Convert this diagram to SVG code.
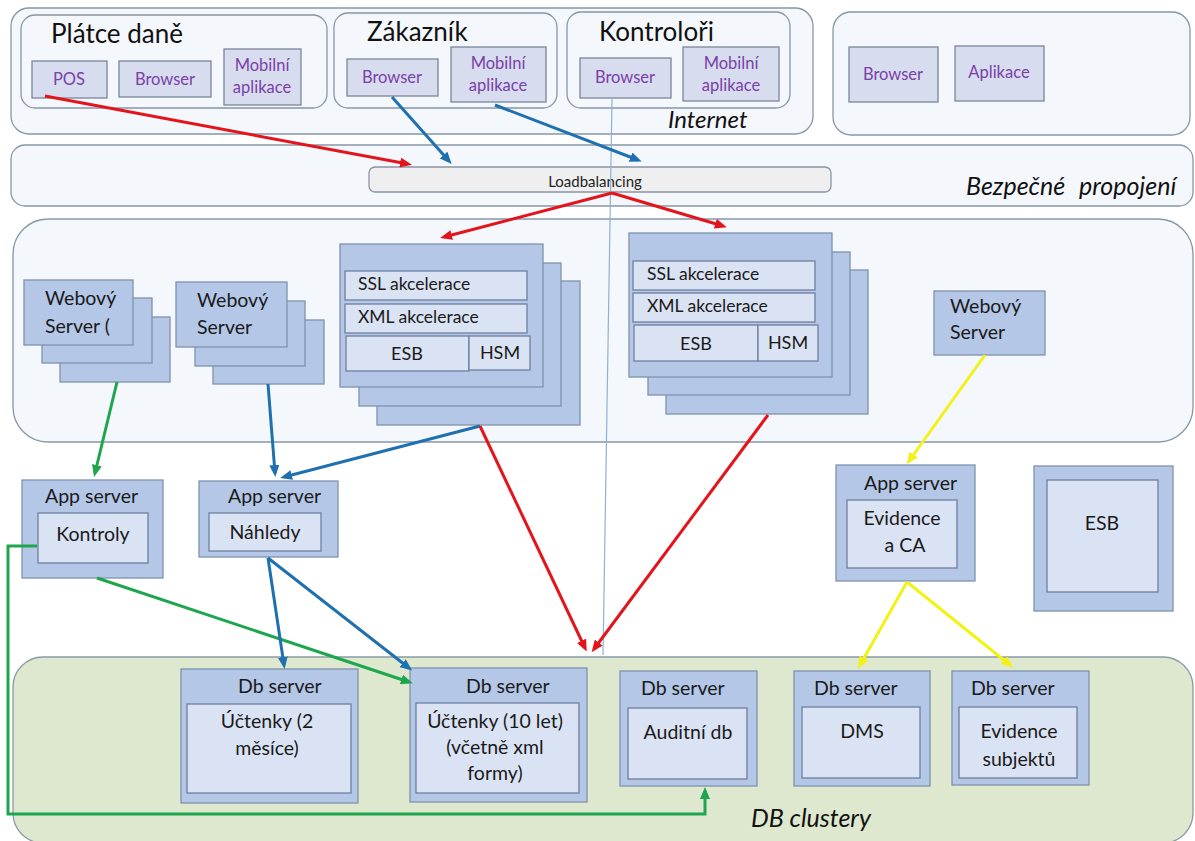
<svg xmlns="http://www.w3.org/2000/svg" width="1195" height="841" viewBox="0 0 1195 841">
  <style>
    text { font-family: Lato, "Liberation Sans", sans-serif; }
    .cont { fill: #f4f7fb; stroke: #8797a8; stroke-width: 1.3; }
    .db-cont { fill: #dde8ce; stroke: #8b9aa6; stroke-width: 1.3; }
    .client { fill: #d7ddef; stroke: #7c8698; stroke-width: 1.3; }
    .ctext { font-size: 16.5px; fill: #7a40a8; text-anchor: middle; }
    .srv { fill: #b4c7e7; stroke: #7f92ae; stroke-width: 1.3; }
    .inner { fill: #dae3f3; stroke: #6e7f9e; stroke-width: 1.3; }
    .lb { fill: #efefef; stroke: #8a96a3; stroke-width: 1.3; }
    .t { font-size: 19.5px; fill: #1a1a1a; }
    .tm { font-size: 19.5px; fill: #1a1a1a; text-anchor: middle; }
    .ts { font-size: 17.5px; fill: #1a1a1a; }
    .tsm { font-size: 18px; fill: #1a1a1a; text-anchor: middle; }
    .title { font-size: 26px; fill: #111; }
    .ital { font-size: 24px; font-style: italic; fill: #111; }
    .red { stroke: #e3141b; stroke-width: 3; fill: none; marker-end: url(#ah-red); }
    .blue { stroke: #1f70b0; stroke-width: 3; fill: none; marker-end: url(#ah-blue); }
    .green { stroke: #1ea64f; stroke-width: 3; fill: none; marker-end: url(#ah-green); }
    .yellow { stroke: #f2f214; stroke-width: 3; fill: none; marker-end: url(#ah-yellow); }
    .thin { stroke: #8db2d4; stroke-width: 1.2; fill: none; }
  </style>
  <defs>
    <marker id="ah-red" markerUnits="userSpaceOnUse" viewBox="0 0 12 10" markerWidth="12" markerHeight="10" refX="8" refY="5" orient="auto"><path d="M0,0 L12,5 L0,10 z" fill="#e3141b"/></marker>
    <marker id="ah-blue" markerUnits="userSpaceOnUse" viewBox="0 0 12 10" markerWidth="12" markerHeight="10" refX="8" refY="5" orient="auto"><path d="M0,0 L12,5 L0,10 z" fill="#1f70b0"/></marker>
    <marker id="ah-green" markerUnits="userSpaceOnUse" viewBox="0 0 12 10" markerWidth="12" markerHeight="10" refX="8" refY="5" orient="auto"><path d="M0,0 L12,5 L0,10 z" fill="#1ea64f"/></marker>
    <marker id="ah-yellow" markerUnits="userSpaceOnUse" viewBox="0 0 12 10" markerWidth="12" markerHeight="10" refX="8" refY="5" orient="auto"><path d="M0,0 L12,5 L0,10 z" fill="#f2f214"/></marker>
  </defs>

  <rect width="1195" height="841" fill="#ffffff"/>

  <!-- Zones -->
  <g id="zone-internet">
    <rect class="cont" x="11" y="8" width="802" height="126" rx="18"/>
    <text class="ital" x="668" y="128">Internet</text>
  </g>
  <g id="zone-external">
    <rect class="cont" x="833" y="12" width="357" height="123" rx="18"/>
  </g>
  <g id="zone-secure">
    <rect class="cont" x="11" y="145" width="1182" height="61" rx="14"/>
    <text class="ital" x="966" y="195" style="font-size:25px; word-spacing:8px">Bezpečné propojení</text>
  </g>
  <g id="zone-app">
    <rect class="cont" x="13" y="219" width="1180" height="223" rx="35"/>
  </g>
  <g id="zone-db">
    <rect class="db-cont" x="13" y="657" width="1180" height="186" rx="30"/>
    <text class="ital" x="751" y="827" style="font-size:25px">DB clustery</text>
  </g>

  <!-- Client groups -->
  <g id="platce-dane">
    <rect class="cont" x="21" y="15" width="306" height="93" rx="14"/>
    <text class="title" x="51" y="43">Plátce daně</text>
  </g>
  <g id="pos">
    <rect class="client" x="32" y="61" width="75" height="37"/>
    <text class="ctext" x="69" y="85">POS</text>
  </g>
  <g id="platce-browser">
    <rect class="client" x="119" y="61" width="92" height="36"/>
    <text class="ctext" x="165" y="85">Browser</text>
  </g>
  <g id="platce-mobil">
    <rect class="client" x="224" y="49" width="77" height="56"/>
    <text class="ctext" x="262" y="71">Mobilní</text>
    <text class="ctext" x="262" y="93">aplikace</text>
  </g>

  <g id="zakaznik">
    <rect class="cont" x="334" y="13" width="223" height="95" rx="14"/>
    <text class="title" x="367" y="41">Zákazník</text>
  </g>
  <g id="zakaznik-browser">
    <rect class="client" x="347" y="59" width="91" height="37"/>
    <text class="ctext" x="392" y="83">Browser</text>
  </g>
  <g id="zakaznik-mobil">
    <rect class="client" x="451" y="47" width="95" height="55"/>
    <text class="ctext" x="498" y="69">Mobilní</text>
    <text class="ctext" x="498" y="91">aplikace</text>
  </g>

  <g id="kontrolori">
    <rect class="cont" x="567" y="12" width="223" height="96" rx="14"/>
    <text class="title" x="599" y="41">Kontroloři</text>
  </g>
  <g id="kontrolori-browser">
    <rect class="client" x="580" y="58" width="91" height="40"/>
    <text class="ctext" x="625" y="83">Browser</text>
  </g>
  <g id="kontrolori-mobil">
    <rect class="client" x="683" y="47" width="96" height="54"/>
    <text class="ctext" x="731" y="69">Mobilní</text>
    <text class="ctext" x="731" y="91">aplikace</text>
  </g>

  <g id="ext-browser">
    <rect class="client" x="849" y="47" width="89" height="55"/>
    <text class="ctext" x="893" y="80">Browser</text>
  </g>
  <g id="ext-aplikace">
    <rect class="client" x="955" y="46" width="89" height="55"/>
    <text class="ctext" x="999" y="78">Aplikace</text>
  </g>

  <!-- Load balancer -->
  <g id="loadbalancing">
    <rect class="lb" x="369" y="167" width="462" height="25" rx="6"/>
    <text x="595" y="187" style="font-size:15px; fill:#222; text-anchor:middle">Loadbalancing</text>
  </g>

  <!-- Web servers -->
  <g id="web-server-1">
    <rect class="srv" x="60" y="317" width="110" height="65"/>
    <rect class="srv" x="42" y="298" width="110" height="65"/>
    <rect class="srv" x="24" y="280" width="109" height="65"/>
    <text class="t" x="45" y="305">Webový</text>
    <text class="t" x="45" y="333">Server (</text>
  </g>
  <g id="web-server-2">
    <rect class="srv" x="213" y="320" width="111" height="64"/>
    <rect class="srv" x="195" y="301" width="110" height="65"/>
    <rect class="srv" x="176" y="282" width="111" height="65"/>
    <text class="t" x="197" y="307">Webový</text>
    <text class="t" x="197" y="334">Server</text>
  </g>
  <g id="gateway-1">
    <rect class="srv" x="377" y="281" width="203" height="144"/>
    <rect class="srv" x="359" y="263" width="202" height="143"/>
    <rect class="srv" x="340" y="244" width="203" height="143"/>
    <rect class="inner" x="345" y="271" width="182" height="29"/>
    <rect class="inner" x="345" y="304" width="182" height="29"/>
    <rect class="inner" x="346" y="336" width="123" height="35"/>
    <rect class="inner" x="469" y="336" width="61" height="34"/>
    <text class="ts" x="358" y="290">SSL akcelerace</text>
    <text class="ts" x="358" y="323">XML akcelerace</text>
    <text class="tsm" x="407" y="360">ESB</text>
    <text class="tsm" x="500" y="359">HSM</text>
  </g>
  <g id="gateway-2">
    <rect class="srv" x="666" y="270" width="202" height="144"/>
    <rect class="srv" x="648" y="252" width="202" height="143"/>
    <rect class="srv" x="629" y="233" width="203" height="144"/>
    <rect class="inner" x="633" y="261" width="182" height="29"/>
    <rect class="inner" x="633" y="293" width="182" height="29"/>
    <rect class="inner" x="634" y="325" width="124" height="36"/>
    <rect class="inner" x="758" y="325" width="60" height="36"/>
    <text class="ts" x="647" y="280">SSL akcelerace</text>
    <text class="ts" x="647" y="312">XML akcelerace</text>
    <text class="tsm" x="696" y="350">ESB</text>
    <text class="tsm" x="788" y="349">HSM</text>
  </g>
  <g id="web-server-3">
    <rect class="srv" x="934" y="291" width="111" height="64"/>
    <text class="t" x="950" y="313">Webový</text>
    <text class="t" x="950" y="339">Server</text>
  </g>

  <!-- App servers -->
  <g id="app-kontroly">
    <rect class="srv" x="22" y="480" width="141" height="98"/>
    <rect class="inner" x="38" y="513" width="110" height="50"/>
    <text class="t" x="45" y="503">App server</text>
    <text class="tm" x="93" y="541">Kontroly</text>
  </g>
  <g id="app-nahledy">
    <rect class="srv" x="199" y="481" width="139" height="76"/>
    <rect class="inner" x="209" y="513" width="112" height="38"/>
    <text class="t" x="228" y="503">App server</text>
    <text class="tm" x="265" y="539">Náhledy</text>
  </g>
  <g id="app-evidence">
    <rect class="srv" x="836" y="465" width="139" height="116"/>
    <rect class="inner" x="847" y="500" width="110" height="68"/>
    <text class="t" x="864" y="490">App server</text>
    <text class="tm" x="902" y="525">Evidence</text>
    <text class="tm" x="905" y="552">a CA</text>
  </g>
  <g id="esb">
    <rect class="srv" x="1034" y="466" width="139" height="145"/>
    <rect class="inner" x="1047" y="480" width="111" height="112"/>
    <text class="tm" x="1102" y="530">ESB</text>
  </g>

  <!-- Database servers -->
  <g id="db-uctenky-2m">
    <rect class="srv" x="181" y="669" width="177" height="134"/>
    <rect class="inner" x="187" y="704" width="164" height="89"/>
    <text class="t" x="238" y="693">Db server</text>
    <text class="tm" x="267" y="728">Účtenky (2</text>
    <text class="tm" x="267" y="755">měsíce)</text>
  </g>
  <g id="db-uctenky-10">
    <rect class="srv" x="410" y="668" width="177" height="134"/>
    <rect class="inner" x="416" y="703" width="163" height="90"/>
    <text class="t" x="466" y="693">Db server</text>
    <text class="tm" x="495" y="728">Účtenky (10 let)</text>
    <text class="tm" x="495" y="754">(včetně xml</text>
    <text class="tm" x="495" y="780">formy)</text>
  </g>
  <g id="db-audit">
    <rect class="srv" x="620" y="671" width="137" height="115"/>
    <rect class="inner" x="628" y="708" width="119" height="71"/>
    <text class="t" x="641" y="695">Db server</text>
    <text class="tm" x="688" y="739">Auditní db</text>
  </g>
  <g id="db-dms">
    <rect class="srv" x="794" y="671" width="136" height="115"/>
    <rect class="inner" x="802" y="707" width="118" height="71"/>
    <text class="t" x="814" y="695">Db server</text>
    <text class="tm" x="862" y="738">DMS</text>
  </g>
  <g id="db-subjekty">
    <rect class="srv" x="952" y="671" width="137" height="114"/>
    <rect class="inner" x="959" y="707" width="118" height="71"/>
    <text class="t" x="971" y="695">Db server</text>
    <text class="tm" x="1019" y="738">Evidence</text>
    <text class="tm" x="1019" y="766">subjektů</text>
  </g>

  <!-- Connectors -->
  <g id="connectors">
    <line class="thin" x1="612" y1="98" x2="603" y2="655"/>
    <line class="red" x1="45" y1="96" x2="408" y2="164"/>
    <line class="blue" x1="392" y1="97" x2="449" y2="161"/>
    <line class="blue" x1="495" y1="105" x2="638" y2="160"/>
    <line class="red" x1="612" y1="193" x2="444" y2="237"/>
    <line class="red" x1="612" y1="193" x2="723" y2="226"/>
    <line class="green" x1="117" y1="382" x2="95" y2="473"/>
    <line class="blue" x1="268" y1="384" x2="275" y2="473"/>
    <line class="blue" x1="480" y1="426" x2="284" y2="477"/>
    <line class="red" x1="480" y1="426" x2="585" y2="648"/>
    <line class="red" x1="768" y1="415" x2="594" y2="649"/>
    <line class="yellow" x1="985" y1="355" x2="909" y2="461"/>
    <line class="yellow" x1="907" y1="582" x2="860" y2="665"/>
    <line class="yellow" x1="907" y1="582" x2="1010" y2="665"/>
    <line class="green" x1="97" y1="578" x2="409" y2="682"/>
    <line class="blue" x1="268" y1="558" x2="284" y2="665"/>
    <line class="blue" x1="268" y1="558" x2="409" y2="668"/>
    <polyline class="green" points="37,546 8,546 8,814 705,814 705,791"/>
  </g>
</svg>
